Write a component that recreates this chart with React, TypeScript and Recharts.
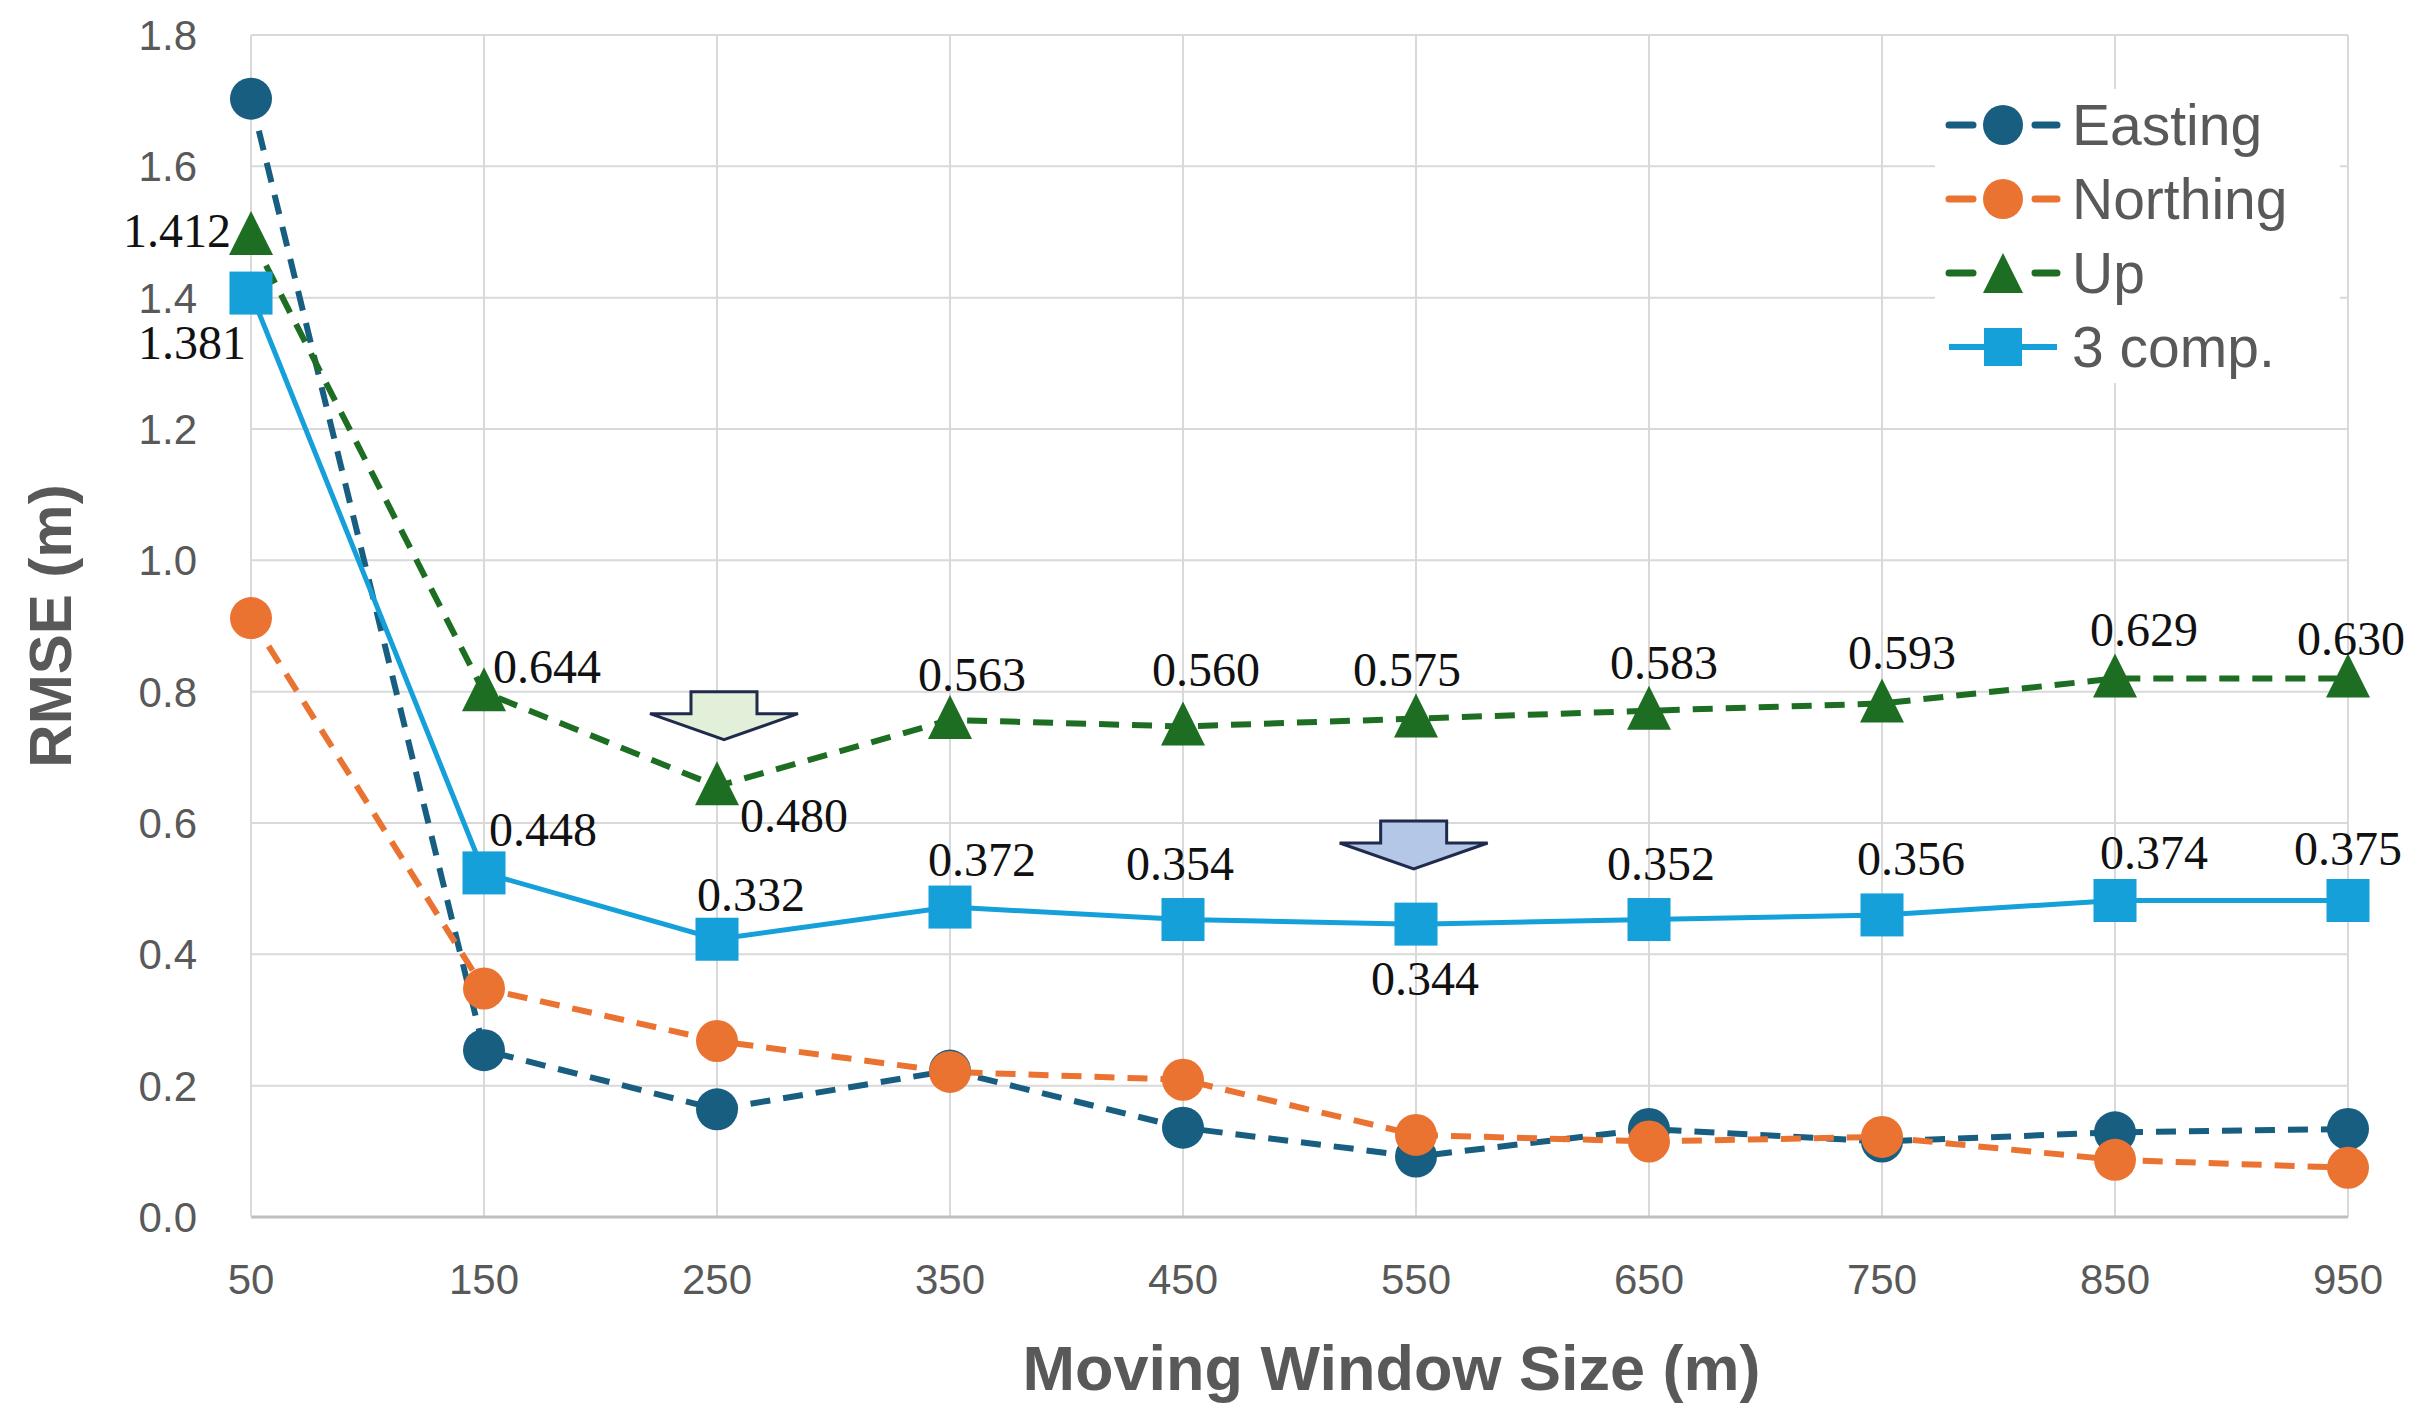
import React from 'react';
import { LineChart, Line, XAxis, YAxis, CartesianGrid, LabelList, ReferenceDot } from 'recharts';

// ─── Data ───────────────────────────────────────────────────────────

const windowSizes = [50, 150, 250, 350, 450, 550, 650, 750, 850, 950];
const easting = [1.703, 0.254, 0.164, 0.223, 0.136, 0.092, 0.134, 0.115, 0.129, 0.134];
const northing = [0.912, 0.348, 0.268, 0.221, 0.209, 0.125, 0.115, 0.122, 0.087, 0.075];
const up = [1.494, 0.799, 0.656, 0.757, 0.747, 0.759, 0.771, 0.782, 0.82, 0.82];
const comp3 = [1.407, 0.524, 0.423, 0.472, 0.453, 0.446, 0.453, 0.46, 0.482, 0.482];
const upLabels = ['1.412', '0.644', '0.480', '0.563', '0.560', '0.575', '0.583', '0.593', '0.629', '0.630'];
const compLabels = ['1.381', '0.448', '0.332', '0.372', '0.354', '0.344', '0.352', '0.356', '0.374', '0.375'];
const yTicks = [0, 0.2, 0.4, 0.6, 0.8, 1.0, 1.2, 1.4, 1.6, 1.8];
const arrowX = [253, 549];
const arrowY = [0.8, 0.603];

const data = windowSizes.map((w, i) => ({
  w,
  easting: easting[i],
  northing: northing[i],
  up: up[i],
  comp3: comp3[i],
  upLabel: upLabels[i],
  compLabel: compLabels[i],
}));

// ─── Styles ─────────────────────────────────────────────────────────

const COLORS = {
  easting: '#175e80',
  northing: '#ea7331',
  up: '#1d6e22',
  comp3: '#15a0da',
  text: '#595959',
  grid: '#d9d9d9',
};
const ARROW_FILLS = ['#e2f0d9', '#b4c7e7'];
const SANS = "'Liberation Sans', Arial, sans-serif";
const SERIF = "'Liberation Serif', 'Times New Roman', serif";
const DASH = '20 13';

// label offsets (px) from the marker centre
const UP_OFFSETS: [number, number][] = [
  [-74, -5], [63, -26], [77, 29], [22, -45], [23, -57], [-9, -49], [15, -48], [20, -51], [29, -49], [3, -40],
];
const COMP_OFFSETS: [number, number][] = [
  [-59, 49], [59, -43], [34, -45], [32, -48], [-3, -56], [9, 54], [12, -56], [29, -56], [39, -48], [0, -52],
];

const makeLabel = (labels: string[], offsets: [number, number][]) => (props: any) => {
  const { x, y, value } = props;
  let idx = typeof props.index === 'number' ? props.index : labels.indexOf(String(value));
  if (idx < 0) idx = 0;
  const [dx, dy] = offsets[idx];
  return (
    <text
      x={Number(x) + dx}
      y={Number(y) + dy}
      textAnchor="middle"
      dominantBaseline="central"
      fontFamily={SERIF}
      fontSize={48}
      fill="#111"
    >
      {value}
    </text>
  );
};

const circleDot = (color: string) => (p: any) => (
  <circle key={p.index} cx={p.cx} cy={p.cy} r={21} fill={color} />
);
const squareDot = (color: string) => (p: any) => (
  <rect key={p.index} x={p.cx - 21.5} y={p.cy - 21.5} width={43} height={43} fill={color} />
);
const triangleDot = (color: string) => (p: any) => (
  <path key={p.index} d={`M${p.cx},${p.cy - 25} L${p.cx + 22},${p.cy + 19} L${p.cx - 22},${p.cy + 19} Z`} fill={color} />
);

const arrowShape = (fill: string) => (p: any) => {
  const { cx, cy } = p;
  // cy is the top of the arrow body
  const d = [
    `M${cx - 33},${cy}`,
    `L${cx + 33},${cy}`,
    `L${cx + 33},${cy + 22}`,
    `L${cx + 74},${cy + 22}`,
    `L${cx},${cy + 48}`,
    `L${cx - 74},${cy + 22}`,
    `L${cx - 33},${cy + 22}`,
    'Z',
  ].join(' ');
  return <path d={d} fill={fill} stroke="#1f2a4d" strokeWidth={3} strokeLinejoin="miter" />;
};

const SERIES = [
  { name: 'Easting', color: COLORS.easting, marker: 'circle', dashed: true },
  { name: 'Northing', color: COLORS.northing, marker: 'circle', dashed: true },
  { name: 'Up', color: COLORS.up, marker: 'triangle', dashed: true },
  { name: '3 comp.', color: COLORS.comp3, marker: 'square', dashed: false },
];

function LegendBox() {
  return (
    <div style={{ position: 'absolute', left: 1935, top: 89, background: '#fff', width: 405, height: 294 }}>
      <svg width={405} height={294}>
        {SERIES.map((s, i) => {
          const cy = 36 + i * 74;
          const cx = 68;
          return (
            <g key={s.name}>
              {s.dashed ? (
                <>
                  <line x1={14} x2={38} y1={cy} y2={cy} stroke={s.color} strokeWidth={7} strokeLinecap="round" />
                  <line x1={100} x2={122} y1={cy} y2={cy} stroke={s.color} strokeWidth={7} strokeLinecap="round" />
                </>
              ) : (
                <line x1={14} x2={122} y1={cy} y2={cy} stroke={s.color} strokeWidth={6} />
              )}
              {s.marker === 'circle' && <circle cx={cx} cy={cy} r={20} fill={s.color} />}
              {s.marker === 'square' && <rect x={cx - 19} y={cy - 19} width={38} height={38} fill={s.color} />}
              {s.marker === 'triangle' && (
                <path d={`M${cx},${cy - 20} L${cx + 20},${cy + 20} L${cx - 20},${cy + 20} Z`} fill={s.color} />
              )}
              <text x={137} y={cy} dominantBaseline="central" fontFamily={SANS} fontSize={57} fill={COLORS.text}>
                {s.name}
              </text>
            </g>
          );
        })}
      </svg>
    </div>
  );
}

export default function App() {
  return (
    <div style={{ position: 'absolute', left: 0, top: 0, width: 2419, height: 1423, background: '#fff' }}>
      <LineChart width={2419} height={1423} data={data} margin={{ top: 35, right: 71, bottom: 0, left: 0 }}>
        <CartesianGrid stroke={COLORS.grid} strokeWidth={2} />
        <XAxis
          type="number"
          dataKey="w"
          domain={[50, 950]}
          ticks={windowSizes}
          interval={0}
          height={206}
          tickSize={0}
          tickMargin={47}
          axisLine={{ stroke: '#bfbfbf', strokeWidth: 3 }}
          tick={{ fill: COLORS.text, fontSize: 42, fontFamily: SANS }}
          label={{
            value: 'Moving Window Size (m)',
            position: 'center',
            dx: 92,
            dy: 48,
            fill: COLORS.text,
            fontSize: 63,
            fontWeight: 'bold',
            fontFamily: SANS,
          }}
        />
        <YAxis
          type="number"
          domain={[0, 1.8]}
          ticks={yTicks}
          width={251}
          tickSize={0}
          tickMargin={54}
          axisLine={{ stroke: COLORS.grid, strokeWidth: 2 }}
          tickFormatter={(v: number) => v.toFixed(1)}
          tick={{ fill: COLORS.text, fontSize: 42, fontFamily: SANS }}
          label={{
            value: 'RMSE (m)',
            angle: -90,
            position: 'center',
            dx: -76,
            fill: COLORS.text,
            fontSize: 60,
            fontWeight: 'bold',
            fontFamily: SANS,
          }}
        />
        <Line
          dataKey="easting"
          stroke={COLORS.easting}
          strokeWidth={6}
          strokeDasharray={DASH}
          dot={circleDot(COLORS.easting)}
          activeDot={false}
          isAnimationActive={false}
        />
        <Line
          dataKey="northing"
          stroke={COLORS.northing}
          strokeWidth={6}
          strokeDasharray={DASH}
          dot={circleDot(COLORS.northing)}
          activeDot={false}
          isAnimationActive={false}
        />
        <Line
          dataKey="up"
          stroke={COLORS.up}
          strokeWidth={6}
          strokeDasharray={DASH}
          dot={triangleDot(COLORS.up)}
          activeDot={false}
          isAnimationActive={false}
        >
          <LabelList dataKey="upLabel" content={makeLabel(upLabels, UP_OFFSETS)} />
        </Line>
        <Line
          dataKey="comp3"
          stroke={COLORS.comp3}
          strokeWidth={5}
          dot={squareDot(COLORS.comp3)}
          activeDot={false}
          isAnimationActive={false}
        >
          <LabelList dataKey="compLabel" content={makeLabel(compLabels, COMP_OFFSETS)} />
        </Line>
        {arrowX.map((x, i) => (
          <ReferenceDot key={i} x={x} y={arrowY[i]} r={0} shape={arrowShape(ARROW_FILLS[i])} ifOverflow="visible" />
        ))}
      </LineChart>
      <LegendBox />
    </div>
  );
}
